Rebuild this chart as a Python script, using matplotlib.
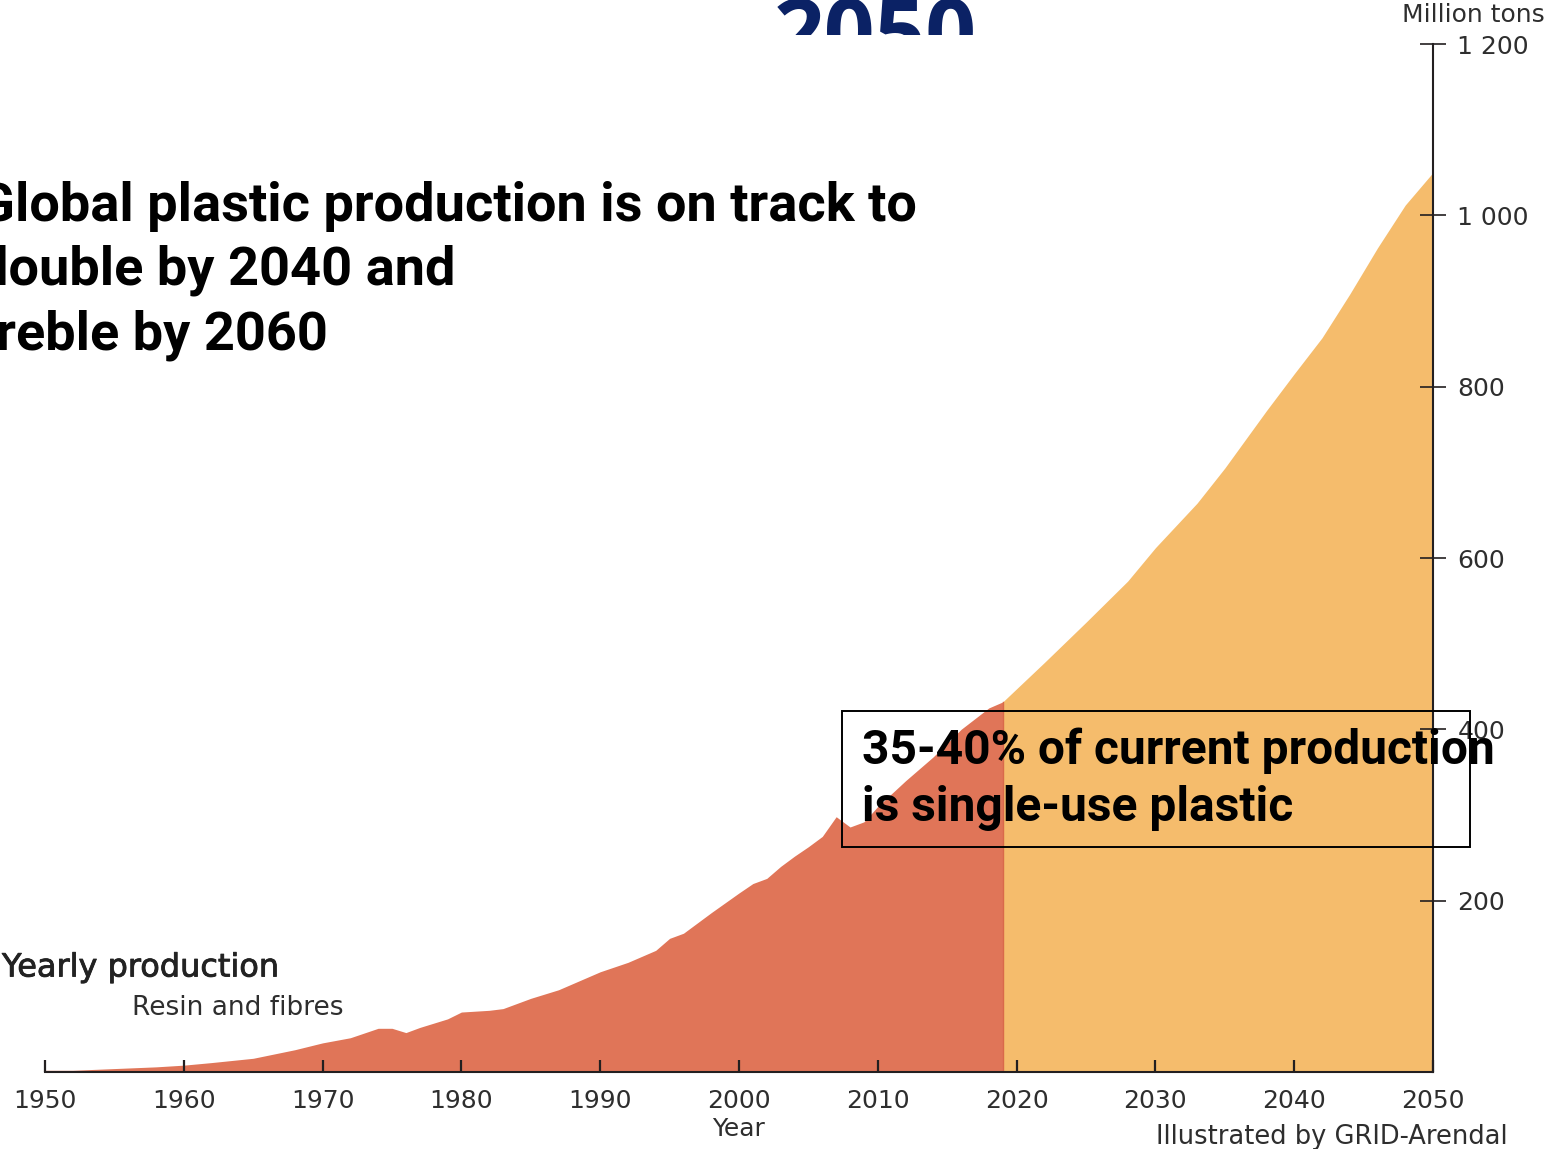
import numpy as np
import matplotlib
matplotlib.use("Agg")
import matplotlib.pyplot as plt
import matplotlib.patheffects as pe
from matplotlib.transforms import Bbox, TransformedBbox
from matplotlib.patches import Rectangle

# historic yearly production, million tons (resin and fibres)
hist_years = [1950, 1952, 1955, 1958, 1960, 1962, 1965, 1968, 1970, 1972,
              1974, 1975, 1976, 1977, 1979, 1980, 1982, 1983, 1985, 1987,
              1989, 1990, 1992, 1994, 1995, 1996, 1998, 2000, 2001, 2002,
              2003, 2004, 2005, 2006, 2007, 2008, 2009, 2010, 2012, 2014,
              2016, 2018, 2019]
hist_vals = [2, 2, 4, 6, 8, 11, 16, 26, 34, 40,
             51, 51, 46, 52, 62, 70, 72, 74, 86, 96,
             110, 117, 128, 142, 156, 162, 186, 209, 220, 226,
             240, 252, 263, 275, 298, 286, 292, 310, 340, 368,
             400, 425, 432]

# projection
proj_years = [2019, 2022, 2025, 2028, 2030, 2033, 2035, 2038, 2040, 2042,
              2044, 2046, 2048, 2050]
proj_vals = [432, 478, 525, 573, 612, 664, 705, 772, 815, 857,
             908, 962, 1012, 1050]

xticks = list(range(1950, 2051, 10))
yticks = [200, 400, 600, 800, 1000, 1200]
ytick_labels = ["200", "400", "600", "800", "1 000", "1 200"]

red = "#e07558"
orange = "#f5bc6c"
dark = "#231f20"
grey = "#2e2e2e"
navy = "#0b2265"

W, H = 1548, 1149
fig = plt.figure(figsize=(W / 100, H / 100), dpi=100)
ax = fig.add_axes([45 / W, (H - 1072) / H, 1388 / W, 1028 / H])

ax.fill_between(hist_years, hist_vals, color=red, lw=0, zorder=1)
ax.fill_between(proj_years, proj_vals, color=orange, lw=0, zorder=1)
ax.plot([2019, 2019], [0, 432], color="#d9694a", lw=1, zorder=1.5)

ax.set_xlim(1950, 2050)
ax.set_ylim(0, 1200)
for s in ["top", "left"]:
    ax.spines[s].set_visible(False)
for s in ["bottom", "right"]:
    ax.spines[s].set_color(dark)
    ax.spines[s].set_linewidth(1.5)
    ax.spines[s].set_zorder(3)

ax.set_xticks(xticks)
ax.set_xticklabels([str(y) for y in xticks])
ax.tick_params(axis="x", direction="in", length=9, width=1.6, color=dark,
               pad=12, labelsize=18, labelcolor=grey)
ax.yaxis.tick_right()
ax.set_yticks(yticks)
ax.set_yticklabels(ytick_labels)
ax.tick_params(axis="y", direction="inout", length=19, width=1.2, color=dark,
               pad=8, labelsize=18, labelcolor=grey)

ax.set_xlabel("Year", fontsize=18, color=grey, labelpad=3)

fig.text(1545 / W, 1 - 15 / H, "Million tons", ha="right", va="center",
         fontsize=18, color=grey)
fig.text(1508 / W, 1 - 1137 / H, "Illustrated by GRID-Arendal", ha="right",
         va="center", fontsize=18.5, color=grey)
fig.text(2 / W, 1 - 968 / H, "Yearly production", ha="left", va="center",
         fontsize=23, color="#222222",
         path_effects=[pe.withStroke(linewidth=0.6, foreground="#222222")])
fig.text(343 / W, 1 - 1008 / H, "Resin and fibres", ha="right", va="center",
         fontsize=19, color=grey)

fig.text(-22 / W, 1 - 271 / H,
         "Global plastic production is on track to\ndouble by 2040 and\ntreble by 2060",
         ha="left", va="center", fontsize=39, fontweight="bold", color="black",
         family="Roboto", linespacing=1.33)

box = Rectangle((842 / W, 1 - 847 / H), 628 / W, 136 / H, transform=fig.transFigure,
                fill=False, edgecolor="black", lw=1.4, zorder=5)
fig.patches.append(box)
fig.text(862 / W, 1 - 779 / H, "35-40% of current production\nis single-use plastic",
         ha="left", va="center", fontsize=34.5, fontweight="bold", color="black",
         family="Roboto", linespacing=1.3, zorder=6)

t = fig.text(875 / W, 1 - 40 / H, "2050", ha="center", va="center", fontsize=64,
             fontweight="bold", color=navy, family="Open Sans")
t.set_clip_box(TransformedBbox(Bbox([[0, 1 - 35 / H], [1, 1]]), fig.transFigure))

fig.savefig("out.png", dpi=100, facecolor="white")
